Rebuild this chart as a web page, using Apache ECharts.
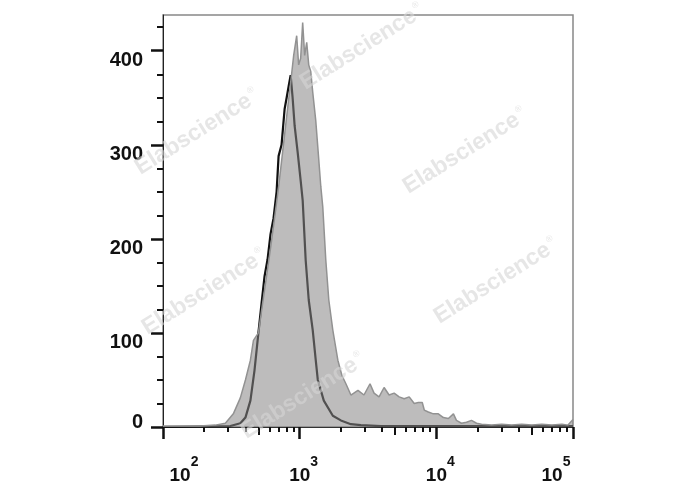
<!DOCTYPE html>
<html><head><meta charset="utf-8">
<script src="https://cdn.jsdelivr.net/npm/echarts@6/dist/echarts.min.js"></script>
<style>html,body{margin:0;padding:0;background:#fff}#c{width:688px;height:490px}</style>
</head><body><div id="c"></div>
<script>
// Sample (filled grey histogram): fluorescence value, count
const sampleX = [100,187,241,286,327,368,401,436,459,499,534,572,612,655,701,750,803,859,904,951,983,1017,1052,1088,1126,1165,1205,1246,1311,1380,1427,1476,1554,1634,1748,1903,2036,2179,2371,2670,2955,3272,3501,3810,4146,4512,4912,5345,5818,6332,6891,7374,7890,8162,8735,9507,10340,11260,12250,13340,14030,15270,16620,18090,19690,21420,25380,30070,35610,42170,49940,59160,70070,83020,91890,100000];
const sampleCount = [1,1,2,4,14,31,50,71,92,100,130,160,190,222,255,292,330,366,395,416,385,392,430,395,409,385,378,356,326,284,256,234,177,135,103,71,55,46,34,39,34,46,36,32,42,34,36,32,30,32,25,26,26,18,16,14,14,10,9,14,7,4,5,7,4,3,2,3,2,3,2,3,2,3,2,8];
// Control (black outline histogram)
const controlX = [100,311,368,401,436,467,499,525,553,582,612,644,678,701,737,776,803,830,859,888,919,967,1017,1052,1107,1165,1246,1311,1357,1502,1748,2002,2371,2808,3941,5529,10000,30000,100000];
const controlCount = [0,1,4,10,28,60,100,130,160,178,205,222,250,288,300,338,350,362,374,350,320,292,262,241,177,135,103,71,50,28,12,7,3,2,1,1,1,1,1];
// Axis ticks
const yTickLabels = [0,100,200,300,400];
const yMinorTicks = [25,50,75,125,150,175,225,250,275,325,350,375,425];
const xMajorTicks = [100,1000,10000,100000];
const xMidTicks = [500,5000,50000];
const xMinorTicks = [200,300,400,600,700,800,900,2000,3000,4000,6000,7000,8000,9000,20000,30000,40000,60000,70000,80000,90000];

const lg = v => Math.log10(v);
const toPairs = (xs, ys) => xs.map((x, i) => [lg(x), ys[i]]);

const FONT = "'Liberation Sans', Arial, sans-serif";
const X0 = lg(100), X1 = lg(100000), YMAX = 438;

function xAxisBase(extra) {
  return Object.assign({
    type: 'value', position: 'bottom', min: X0, max: X1, gridIndex: 0,
    splitLine: {show: false},
    axisLine: {show: false},
    axisLabel: {show: false}
  }, extra);
}
function yAxisBase(extra) {
  return Object.assign({
    type: 'value', position: 'left', min: 0, max: YMAX,
    splitLine: {show: false},
    axisLine: {show: false},
    axisLabel: {show: false}
  }, extra);
}

const wm = [[197,132],[362,47],[465,151],[496,281],[204,292],[303,396]];

const option = {
  animation: false,
  backgroundColor: '#fff',
  grid: {left: 163, right: 115, top: 15, bottom: 63, show: true, borderColor: '#888', borderWidth: 1.5, backgroundColor: 'transparent'},
  xAxis: [
    xAxisBase({
      axisLine: {show: true, onZero: false, lineStyle: {color: '#333', width: 1}},
      axisTick: {show: true, length: 12, customValues: xMajorTicks.map(lg), lineStyle: {color: '#111', width: 2.5}},
      axisLabel: {
        show: true, customValues: xMajorTicks.map(lg), margin: 28, verticalAlign: 'top', color: '#111',
        formatter: v => {
          const e = Math.round(v);
          if (e === 2) return '{bl|10}{s|2}';
          if (e === 5) return '{b|10}{sr|5}';
          return '{bc|10}{s|' + e + '}';
        },
        rich: {
          b: {fontSize: 19, fontWeight: 'bold', fontFamily: FONT, color: '#111', lineHeight: 30, verticalAlign: 'bottom'},
          bc: {fontSize: 19, fontWeight: 'bold', fontFamily: FONT, color: '#111', lineHeight: 30, verticalAlign: 'bottom', padding: [0,0,0,8]},
          bl: {fontSize: 19, fontWeight: 'bold', fontFamily: FONT, color: '#111', lineHeight: 30, verticalAlign: 'bottom', padding: [0,0,0,42]},
          s: {fontSize: 14, fontWeight: 'bold', fontFamily: FONT, color: '#111', lineHeight: 14, verticalAlign: 'top'},
          sr: {fontSize: 14, fontWeight: 'bold', fontFamily: FONT, color: '#111', lineHeight: 14, verticalAlign: 'top', padding: [0,34,0,0]}
        }
      }
    }),
    xAxisBase({axisTick: {show: true, length: 8, customValues: xMidTicks.map(lg), lineStyle: {color: '#111', width: 2}}}),
    xAxisBase({axisTick: {show: true, length: 5, customValues: xMinorTicks.map(lg), lineStyle: {color: '#111', width: 2}}})
  ],
  yAxis: [
    yAxisBase({
      axisLine: {show: true, onZero: false, lineStyle: {color: '#222', width: 1}},
      axisTick: {show: true, length: 12, customValues: yTickLabels, lineStyle: {color: '#111', width: 2.5}},
      axisLabel: {
        show: true, customValues: yTickLabels, margin: 20, color: '#111',
        formatter: v => v === 0 ? '{z|0}' : '{n|' + v + '}',
        rich: {
          n: {fontSize: 20, fontWeight: 'bold', fontFamily: FONT, color: '#111', padding: [20,0,0,0]},
          z: {fontSize: 20, fontWeight: 'bold', fontFamily: FONT, color: '#111', padding: [0,0,10,0]}
        }
      }
    }),
    yAxisBase({axisTick: {show: true, length: 6, customValues: yMinorTicks, lineStyle: {color: '#111', width: 2}}})
  ],
  series: [
    {
      name: 'Control', type: 'line', xAxisIndex: 0, yAxisIndex: 0,
      data: toPairs(controlX, controlCount),
      showSymbol: false, symbol: 'none', z: 2,
      lineStyle: {color: '#111', width: 2.2}
    },
    {
      name: 'Sample', type: 'line', xAxisIndex: 0, yAxisIndex: 0,
      data: toPairs(sampleX, sampleCount),
      showSymbol: false, symbol: 'none', z: 3,
      lineStyle: {color: '#929292', width: 1.5},
      areaStyle: {color: 'rgb(135,133,133)', opacity: 0.55, origin: 'start'}
    }
  ],
  graphic: wm.map(([x, y]) => ({
    type: 'text', x: x, y: y, rotation: 0.56, z: 100, silent: true,
    style: {
      text: '{a|Elabscience}{r|®}',
      align: 'center', verticalAlign: 'middle',
      rich: {
        a: {fontSize: 23, fontWeight: 'bold', fontFamily: FONT, fill: 'rgba(213,213,213,0.6)'},
        r: {fontSize: 9, fontFamily: FONT, fill: 'rgba(213,213,213,0.6)', verticalAlign: 'top', padding: [0,0,12,2]}
      }
    }
  }))
};

const chart = echarts.init(document.getElementById('c'), null, {renderer: 'canvas'});
chart.setOption(option);
</script>
</body></html>
